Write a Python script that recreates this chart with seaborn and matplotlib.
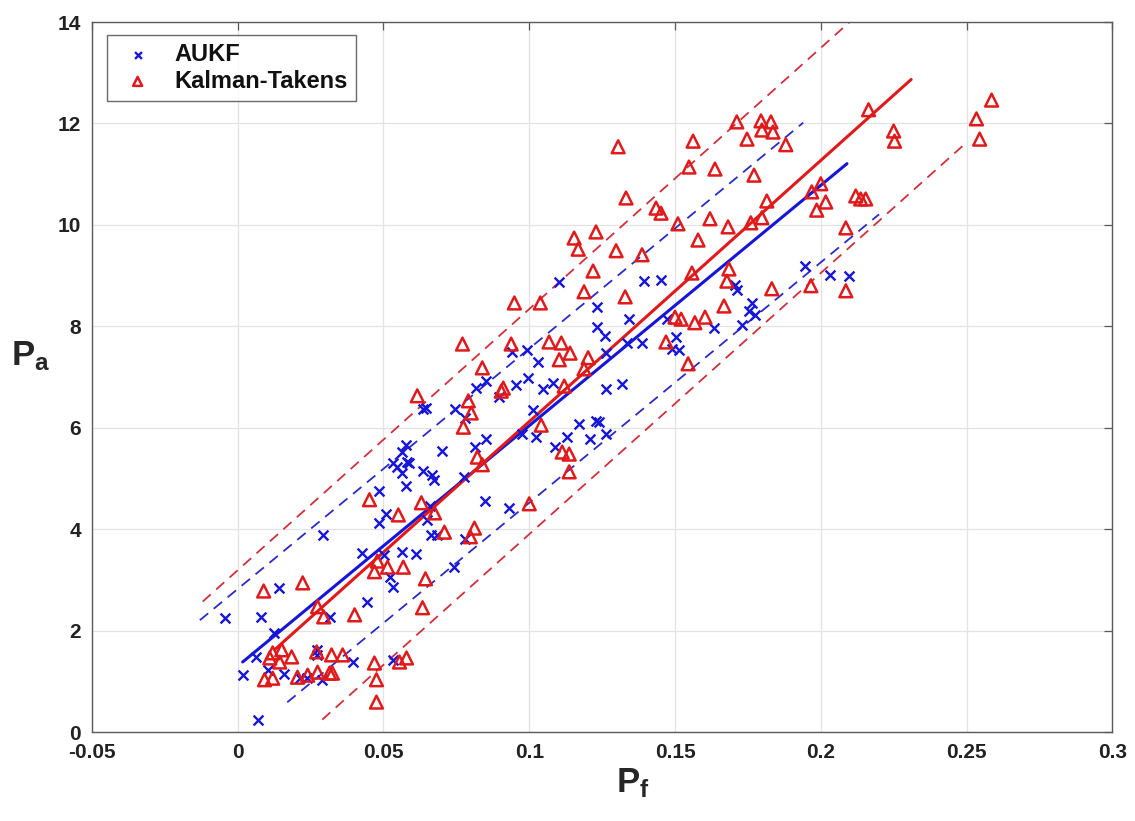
import numpy as np
import pandas as pd
import matplotlib
matplotlib.use('Agg')
import matplotlib.pyplot as plt
import seaborn as sns

# AUKF points (P_f, P_a)
aukf_pf = [-0.0045, 0.0079, 0.0123, 0.0062, 0.0017, 0.0103, 0.0158, 0.0212, 0.0236, 0.0271,
           0.0271, 0.0288, 0.0394, 0.0315, 0.0445, 0.0531, 0.0068, 0.0291, 0.0140, 0.0425,
           0.0486, 0.0510, 0.0503, 0.0521, 0.0531, 0.0562, 0.0613, 0.0651, 0.0664, 0.0682,
           0.0658, 0.0637, 0.0647, 0.0579, 0.0565, 0.0582, 0.0531, 0.0548, 0.0565, 0.0579,
           0.0634, 0.0668, 0.0675, 0.0702, 0.0483, 0.0942, 0.0993, 0.1031, 0.0997, 0.0853,
           0.0818, 0.0955, 0.0897, 0.1048, 0.1082, 0.0747, 0.0781, 0.1014, 0.1171, 0.1229,
           0.0976, 0.1024, 0.1130, 0.1209, 0.1089, 0.0853, 0.0815, 0.0589, 0.0777, 0.0849,
           0.0932, 0.0781, 0.0743, 0.1103, 0.1394, 0.1452, 0.1233, 0.1342, 0.1233, 0.1260,
           0.1473, 0.1503, 0.1490, 0.1514, 0.1387, 0.1336, 0.1264, 0.1705, 0.1712, 0.1634,
           0.1729, 0.1264, 0.1318, 0.1240, 0.1264, 0.1945, 0.2031, 0.2096, 0.1764, 0.1753,
           0.1774]
aukf_pa = [2.25, 2.27, 1.95, 1.48, 1.12, 1.22, 1.14, 1.06, 1.06, 1.62,
           1.52, 1.03, 1.38, 2.27, 2.56, 1.42, 0.24, 3.88, 2.84, 3.53,
           4.12, 4.30, 3.49, 3.06, 2.86, 3.55, 3.51, 4.18, 3.88, 3.88,
           4.46, 6.37, 6.39, 5.66, 5.52, 5.32, 5.30, 5.23, 5.11, 4.85,
           5.15, 5.07, 4.97, 5.54, 4.75, 7.49, 7.53, 7.30, 6.98, 6.92,
           6.78, 6.84, 6.61, 6.76, 6.88, 6.37, 6.19, 6.35, 6.07, 6.13,
           5.88, 5.82, 5.82, 5.78, 5.62, 5.78, 5.62, 5.30, 5.03, 4.56,
           4.42, 3.81, 3.25, 8.87, 8.89, 8.91, 8.38, 8.14, 7.99, 7.81,
           8.14, 7.79, 7.55, 7.53, 7.67, 7.67, 7.47, 8.81, 8.72, 7.97,
           8.03, 6.76, 6.86, 6.11, 5.88, 9.19, 9.01, 8.99, 8.46, 8.30,
           8.22]

# Kalman-Takens points
kt_pf = [0.0274, 0.0295, 0.0401, 0.0120, 0.0151, 0.0185, 0.0144, 0.0110, 0.0092, 0.0120,
         0.0205, 0.0240, 0.0274, 0.0271, 0.0322, 0.0360, 0.0315, 0.0325, 0.0469, 0.0476,
         0.0476, 0.0555, 0.0579, 0.0089, 0.0223, 0.0452, 0.0551, 0.0630, 0.0675, 0.0709,
         0.0479, 0.0469, 0.0514, 0.0568, 0.0644, 0.0634, 0.0616, 0.0771, 0.0938, 0.1068,
         0.1110, 0.1140, 0.1103, 0.1202, 0.1188, 0.0839, 0.0911, 0.0904, 0.1120, 0.0791,
         0.0801, 0.0774, 0.1041, 0.0822, 0.0839, 0.1113, 0.1137, 0.1137, 0.1000, 0.0812,
         0.0798, 0.1154, 0.1229, 0.1168, 0.1298, 0.1387, 0.1219, 0.1579, 0.1685, 0.1678,
         0.1558, 0.0949, 0.1038, 0.1188, 0.1329, 0.1668, 0.1500, 0.1521, 0.1568, 0.1603,
         0.1469, 0.1545, 0.1305, 0.1562, 0.1712, 0.1747, 0.1548, 0.1637, 0.1771, 0.1332,
         0.1435, 0.1452, 0.1510, 0.1620, 0.1682, 0.1760, 0.2164, 0.2250, 0.2253, 0.1795,
         0.1829, 0.1798, 0.1836, 0.1880, 0.1969, 0.2000, 0.2017, 0.1986, 0.1815, 0.1798,
         0.2120, 0.2137, 0.2154, 0.2086, 0.1832, 0.1966, 0.2086, 0.2586, 0.2534, 0.2545]
kt_pa = [2.47, 2.27, 2.31, 1.56, 1.62, 1.48, 1.38, 1.46, 1.03, 1.06,
         1.08, 1.12, 1.18, 1.58, 1.52, 1.52, 1.16, 1.16, 1.36, 1.03,
         0.59, 1.38, 1.46, 2.78, 2.94, 4.58, 4.28, 4.52, 4.32, 3.94,
         3.37, 3.16, 3.25, 3.25, 3.02, 2.45, 6.63, 7.65, 7.65, 7.69,
         7.67, 7.47, 7.34, 7.38, 7.16, 7.18, 6.78, 6.72, 6.82, 6.53,
         6.29, 6.01, 6.05, 5.42, 5.27, 5.52, 5.48, 5.13, 4.50, 4.02,
         3.85, 9.74, 9.86, 9.52, 9.49, 9.41, 9.09, 9.70, 9.13, 8.89,
         9.05, 8.46, 8.46, 8.68, 8.58, 8.40, 8.18, 8.14, 8.07, 8.18,
         7.69, 7.26, 11.54, 11.65, 12.03, 11.69, 11.14, 11.10, 10.98, 10.53,
         10.33, 10.23, 10.02, 10.12, 9.96, 10.04, 12.27, 11.85, 11.65, 12.05,
         12.03, 11.87, 11.83, 11.58, 10.65, 10.81, 10.45, 10.29, 10.47, 10.14,
         10.57, 10.51, 10.51, 9.94, 8.74, 8.80, 8.70, 12.46, 12.09, 11.69]

# linear fits and prediction bands
fit_names = ['AUKF', 'Kalman-Takens']
fit_slope = [47.4, 51.5]
fit_intercept = [1.30, 0.97]
fit_x_range = [(0.0017, 0.209), (0.0127, 0.231)]
band_offset = [1.52, 2.22]
band_upper_x = [(-0.013, 0.194), (-0.012, 0.215)]
band_lower_x = [(0.017, 0.220), (0.029, 0.249)]

colors = {'AUKF': '#1616d8', 'Kalman-Takens': '#e01a1a'}
dash_colors = {'AUKF': '#2a2ac8', 'Kalman-Takens': '#d0303c'}

xticks = [-0.05, 0, 0.05, 0.1, 0.15, 0.2, 0.25, 0.3]
xtick_labels = ['-0.05', '0', '0.05', '0.1', '0.15', '0.2', '0.25', '0.3']
yticks = [0, 2, 4, 6, 8, 10, 12, 14]

sns.set_style('whitegrid')
plt.rcParams['font.family'] = ['Liberation Sans', 'DejaVu Sans']
plt.rcParams['mathtext.fontset'] = 'custom'
plt.rcParams['mathtext.bf'] = 'Liberation Sans:bold'
plt.rcParams['mathtext.rm'] = 'Liberation Sans'

fig = plt.figure(figsize=(11.35, 8.21), dpi=100)
ax = fig.add_axes([0.081, 0.1084, 0.899, 0.8648])

# fitted lines
rows = []
for i, name in enumerate(fit_names):
    lines = [('fit', fit_x_range[i], 0.0),
             ('upper', band_upper_x[i], band_offset[i]),
             ('lower', band_lower_x[i], -band_offset[i])]
    for kind, xr, off in lines:
        for xv in xr:
            rows.append({'method': name, 'kind': kind,
                         'x': xv, 'y': fit_intercept[i] + fit_slope[i] * xv + off})
lines_df = pd.DataFrame(rows)

for name in fit_names:
    sub = lines_df[lines_df['method'] == name]
    sns.lineplot(data=sub[sub['kind'] == 'fit'], x='x', y='y', color=colors[name],
                 lw=2.2, ax=ax, legend=False, sort=False)
    for kind in ['upper', 'lower']:
        sns.lineplot(data=sub[sub['kind'] == kind], x='x', y='y', color=dash_colors[name],
                     lw=1.3, ax=ax, legend=False, sort=False)
        ax.lines[-1].set_linestyle((0, (6, 4)))

# scatter points
sns.scatterplot(x=aukf_pf, y=aukf_pa, marker='x', color=colors['AUKF'], s=50,
                linewidth=1.7, ax=ax, label='AUKF', zorder=3)
sns.scatterplot(x=kt_pf, y=kt_pa, marker='^', facecolor='none',
                edgecolor=colors['Kalman-Takens'], s=85, linewidth=1.8, ax=ax,
                label='Kalman-Takens', zorder=3)

ax.set_xlim(-0.05, 0.3)
ax.set_ylim(0, 14)
ax.set_xticks(xticks)
ax.set_xticklabels(xtick_labels)
ax.set_yticks(yticks)
ax.grid(True, color='#e3e3e3', lw=0.9)
for sp in ax.spines.values():
    sp.set_color('#5a5a5a')
    sp.set_linewidth(1.0)
ax.tick_params(direction='in', length=6, width=0.9, color='#5a5a5a',
               top=True, right=True, labelsize=15)
ax.tick_params(axis='x', pad=8)
ax.tick_params(axis='y', pad=8)
for lab in ax.get_xticklabels() + ax.get_yticklabels():
    lab.set_fontweight('bold')
    lab.set_color('#222222')

ax.set_xlabel(r'$\mathbf{P_f}$', fontsize=25)
ax.xaxis.set_label_coords(0.53, -0.048)
ax.set_ylabel(r'$\mathbf{P_a}$', fontsize=25, rotation=0, va='center', ha='center')
ax.yaxis.set_label_coords(-0.06, 0.53)

leg = ax.legend(loc='upper left', bbox_to_anchor=(0.0147, 0.982), borderaxespad=0,
                fontsize=17, frameon=True, fancybox=False, borderpad=0.35,
                handletextpad=0.6, labelspacing=0.15, markerscale=0.7, handlelength=1.9)
leg.get_frame().set_edgecolor('#444444')
leg.get_frame().set_linewidth(1.0)
for t in leg.get_texts():
    t.set_fontweight('bold')
    t.set_color('#111111')

fig.savefig('out.png', dpi=100)
